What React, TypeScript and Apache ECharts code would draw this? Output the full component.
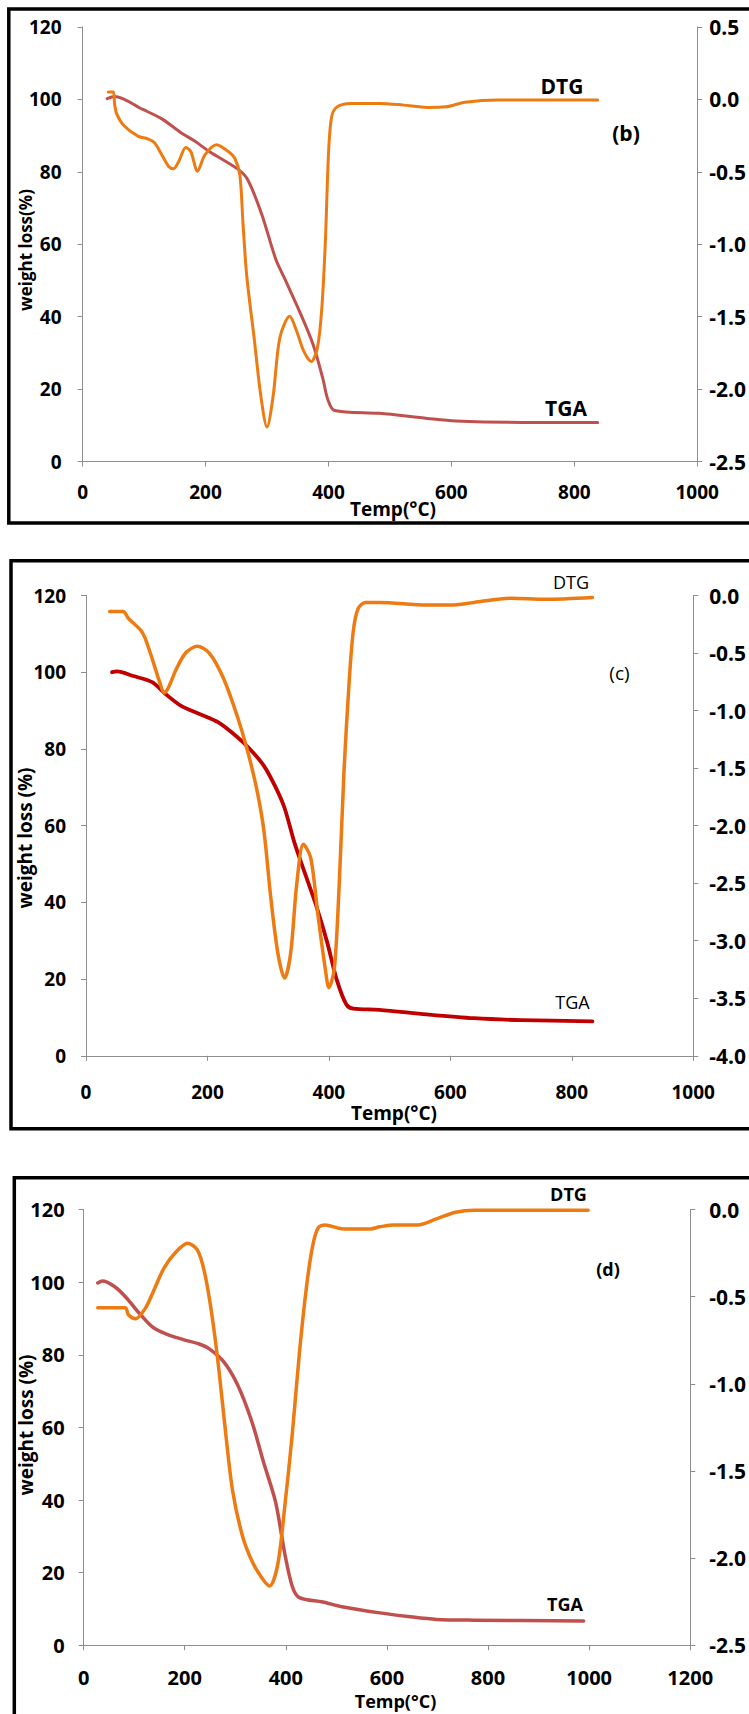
import React, { useEffect, useRef } from "react";
import * as echarts from "echarts";

// ---------- Panel (b) ----------
const bTgaT = [40, 52, 98, 129, 160, 183, 206, 252, 268, 291, 314, 329, 352, 375, 391, 399, 410, 483, 561, 607, 715, 838];
const bTgaW = [100.2, 100.8, 97.2, 94.6, 90.8, 88.4, 85.6, 80.8, 78, 68.5, 56, 50.4, 41.8, 32.3, 22.8, 17.1, 14.1, 13.3, 11.9, 11.2, 10.8, 10.8];
const bDtgT = [42, 50, 52, 55.5, 67, 90, 106, 117, 129, 140, 148, 156, 168, 176, 187, 199, 218, 237, 248, 256, 261, 267, 279, 290, 300, 310, 321, 337, 348, 360, 372, 382, 389, 395, 400, 405, 414, 437, 483, 522, 561, 591, 622, 676, 753, 838];
const bDtgV = [0.05, 0.05, -0.03, -0.1, -0.18, -0.254, -0.273, -0.3, -0.384, -0.463, -0.479, -0.432, -0.332, -0.36, -0.496, -0.384, -0.313, -0.36, -0.41, -0.527, -0.86, -1.216, -1.644, -2.048, -2.262, -2.048, -1.644, -1.497, -1.597, -1.74, -1.81, -1.716, -1.454, -0.979, -0.384, -0.123, -0.052, -0.028, -0.028, -0.04, -0.056, -0.052, -0.02, -0.004, -0.004, -0.004];

// ---------- Panel (c) ----------
const cTgaT = [43, 51, 78, 109, 129, 156, 187, 218, 249, 269, 293, 312, 327, 343, 358, 378, 397, 413, 429, 440, 483, 561, 639, 717, 834];
const cTgaW = [100, 100.2, 99, 97.4, 94.6, 91.3, 89.1, 86.9, 83.1, 80.1, 75.6, 70.1, 64.6, 55.7, 48.7, 39.7, 29.7, 19.8, 13.3, 12.3, 12, 10.8, 9.8, 9.3, 9.0];
const cDtgT = [39, 61, 70, 90, 97, 109, 121, 129, 136, 148, 164, 183, 203, 226, 249, 265, 281, 293, 304, 316, 327, 337, 347, 358, 370, 382, 394, 400, 409, 417, 425, 433, 440, 448, 460, 483, 561, 600, 639, 701, 756, 834];
const cDtgV = [-0.14, -0.14, -0.2, -0.3, -0.366, -0.549, -0.748, -0.848, -0.798, -0.648, -0.5, -0.442, -0.5, -0.715, -1.047, -1.33, -1.679, -2.045, -2.61, -3.109, -3.325, -3.109, -2.51, -2.161, -2.278, -2.777, -3.242, -3.408, -3.242, -2.51, -1.513, -0.781, -0.316, -0.116, -0.06, -0.06, -0.083, -0.083, -0.06, -0.023, -0.033, -0.017];

// ---------- Panel (d) ----------
const dTgaT = [28, 37.5, 61, 84, 108, 136, 164, 197, 230, 248, 277, 305, 333, 356, 380, 398, 413, 427, 473, 511, 586, 642, 698, 773, 989];
const dTgaW = [99.8, 100.3, 98.8, 95.8, 91.8, 87.7, 85.7, 84.2, 82.9, 81.7, 78.1, 71.6, 61.5, 50.4, 39.3, 25.2, 16.1, 13.1, 11.9, 10.6, 8.9, 7.9, 7.1, 6.9, 6.7];
const dDtgT = [28, 82, 89, 103, 122, 136, 159, 183, 206, 225, 239, 253, 267, 281, 295, 314, 333, 352, 368, 384, 398, 413, 427, 441, 453, 464, 478, 502, 516, 567, 586, 614, 661, 698, 736, 773, 998];
const dDtgV = [-0.563, -0.563, -0.605, -0.626, -0.567, -0.483, -0.336, -0.242, -0.193, -0.231, -0.357, -0.588, -0.903, -1.282, -1.618, -1.87, -2.017, -2.111, -2.16, -2.038, -1.702, -1.282, -0.819, -0.441, -0.21, -0.105, -0.088, -0.105, -0.111, -0.111, -0.099, -0.088, -0.088, -0.053, -0.015, -0.004, -0.004];

const pair = (xs: number[], ys: number[]) => xs.map((x, i) => [x, ys[i]]);

const FONT = "'Open Sans', 'Liberation Sans', sans-serif";
const ORANGE = "#EE7A12";
const RED_B = "#C0504D";
const RED_C = "#C00000";
const AXIS_GRAY = "#8E8E8E";

function xAxisCfg(gridIndex: number, max: number, margin: number, fontSize: number) {
  return {
    type: "value",
    gridIndex,
    min: 0,
    max,
    interval: 200,
    axisLine: { show: true, lineStyle: { color: AXIS_GRAY, width: 1 } },
    axisTick: { show: true, length: 5, lineStyle: { color: AXIS_GRAY } },
    splitLine: { show: false },
    axisLabel: {
      margin,
      color: "#000",
      fontFamily: FONT,
      fontWeight: "bold",
      fontSize,
      showMinLabel: true,
      showMaxLabel: true,
      formatter: (v: number) => String(v),
    },
  };
}

function leftAxisCfg(gridIndex: number, margin: number, fontSize: number) {
  return {
    type: "value",
    gridIndex,
    position: "left",
    min: 0,
    max: 120,
    interval: 20,
    axisLine: { show: true, lineStyle: { color: AXIS_GRAY, width: 1 } },
    axisTick: { show: true, length: 5, lineStyle: { color: AXIS_GRAY } },
    splitLine: { show: false },
    axisLabel: {
      margin,
      color: "#000",
      fontFamily: FONT,
      fontWeight: "bold",
      fontSize,
      formatter: (v: number) => String(v),
    },
  };
}

function rightAxisCfg(gridIndex: number, min: number, max: number, margin: number, fontSize: number) {
  return {
    type: "value",
    gridIndex,
    position: "right",
    min,
    max,
    interval: 0.5,
    axisLine: { show: true, lineStyle: { color: AXIS_GRAY, width: 1 } },
    axisTick: { show: true, length: 5, lineStyle: { color: AXIS_GRAY } },
    splitLine: { show: false },
    axisLabel: {
      margin,
      color: "#000",
      fontFamily: FONT,
      fontWeight: "bold",
      fontSize,
      formatter: (v: number) => v.toFixed(1),
    },
  };
}

function lineSeries(xi: number, yi: number, data: number[][], color: string, width: number, z: number) {
  return {
    type: "line",
    xAxisIndex: xi,
    yAxisIndex: yi,
    data,
    symbol: "none",
    smooth: 0.3,
    z,
    lineStyle: { color, width, cap: "round", join: "round" },
    itemStyle: { color },
  };
}

function txt(x: number, y: number, text: string, fontSize: number, bold: boolean, rotation = 0) {
  return {
    type: "text",
    x,
    y,
    rotation,
    z: 10,
    style: {
      text,
      fill: "#000",
      fontFamily: FONT,
      fontSize,
      fontWeight: bold ? "bold" : "normal",
      align: "center",
      verticalAlign: "middle",
    },
  };
}

function frame(x: number, y: number, w: number, h: number) {
  return {
    type: "rect",
    z: 10,
    shape: { x, y, width: w, height: h },
    style: { fill: "none", stroke: "#000", lineWidth: 3.5 },
  };
}

export default function App() {
  const ref = useRef<HTMLDivElement>(null);
  useEffect(() => {
    if (!ref.current) return;
    const chart = echarts.init(ref.current, null, { renderer: "svg" });
    const option = {
      animation: false,
      backgroundColor: "#fff",
      grid: [
        { left: 82.6, top: 26.9, width: 619.6, height: 434.6, containLabel: false },
        { left: 86, top: 595.5, width: 612.8, height: 460.3, containLabel: false },
        { left: 83.6, top: 1209.6, width: 611.4, height: 435.6, containLabel: false },
      ],
      xAxis: [xAxisCfg(0, 1000, 21, 19), xAxisCfg(1, 1000, 27, 19), xAxisCfg(2, 1200, 22, 20)],
      yAxis: [
        leftAxisCfg(0, 21, 19),
        rightAxisCfg(0, -2.5, 0.5, 12, 21),
        leftAxisCfg(1, 20, 19),
        rightAxisCfg(1, -4, 0, 16, 21),
        leftAxisCfg(2, 19, 20),
        rightAxisCfg(2, -2.5, 0, 19, 21),
      ],
      series: [
        lineSeries(0, 0, pair(bTgaT, bTgaW), RED_B, 3, 2),
        lineSeries(0, 1, pair(bDtgT, bDtgV), ORANGE, 3, 3),
        lineSeries(1, 2, pair(cTgaT, cTgaW), RED_C, 3.8, 2),
        lineSeries(1, 3, pair(cDtgT, cDtgV), ORANGE, 3.5, 3),
        lineSeries(2, 4, pair(dTgaT, dTgaW), RED_B, 3.5, 2),
        lineSeries(2, 5, pair(dDtgT, dDtgV), ORANGE, 3.5, 3),
      ],
      graphic: [
        frame(8.8, 9, 770, 514),
        frame(11, 560.7, 770, 568),
        frame(14.3, 1177.7, 770, 600),
        // panel b texts
        txt(393, 509, "Temp(°C)", 19, true),
        txt(25, 250, "weight loss(%)", 17, true, Math.PI / 2),
        txt(562, 85.5, "DTG", 21, true),
        txt(626, 133, "(b)", 21, true),
        txt(566, 408, "TGA", 21, true),
        // panel c texts
        txt(394, 1113, "Temp(°C)", 19, true),
        txt(25, 838, "weight loss (%)", 19, true, Math.PI / 2),
        txt(571, 582, "DTG", 18, false),
        txt(619.5, 673, "(c)", 19, false),
        txt(572.5, 1002, "TGA", 18, false),
        // panel d texts
        txt(395.5, 1701, "Temp(°C)", 18, true),
        txt(26, 1425, "weight loss (%)", 19, true, Math.PI / 2),
        txt(568.5, 1194, "DTG", 18, true),
        txt(608, 1269, "(d)", 18, true),
        txt(565, 1604, "TGA", 18, true),
      ],
    };
    chart.setOption(option as any);
    return () => chart.dispose();
  }, []);
  return (
    <div
      ref={ref}
      style={{ position: "absolute", left: 0, top: 0, width: 749, height: 1714, background: "#fff" }}
    />
  );
}
